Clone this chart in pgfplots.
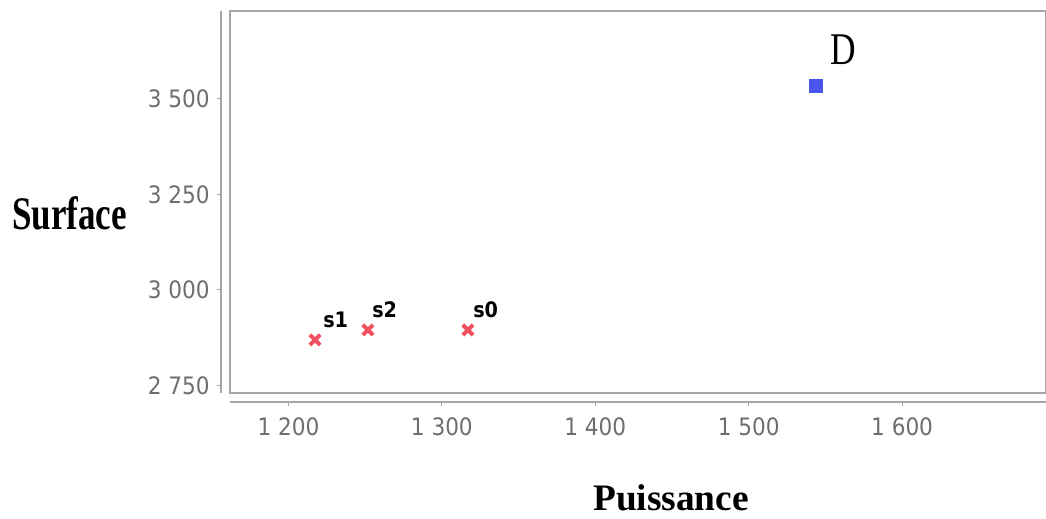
\documentclass[border=0pt]{standalone}
\usepackage{graphicx}
\usepackage{pgfplots}
\pgfplotsset{compat=1.18}
\usepackage{fontspec}
\setmainfont{Liberation Serif}
\newfontfamily\tickfont{DejaVu Sans Condensed}
\definecolor{framegray}{RGB}{165,165,165}
\definecolor{tickgray}{RGB}{110,110,110}
\definecolor{crossred}{RGB}{240,80,95}
\definecolor{sqblue}{RGB}{75,85,235}
\begin{document}
\begin{tikzpicture}
\path[use as bounding box] (0pt,0pt) rectangle (784.5pt,388.5pt);
\pgfplotsset{
  common/.style={scale only axis, width=612pt, height=286.5pt,
    xmin=1161.9, xmax=1693.8, ymin=2730, ymax=3730, anchor=south west},
}
% detached x axis line
\begin{axis}[common, at={(172.5pt,87pt)}, axis x line=bottom, axis y line=none,
  axis line style={-, framegray, line width=1.6pt},
  xtick={1200,1300,1400,1500,1600},
  xticklabels={1 200,1 300,1 400,1 500,1 600},
  tick align=outside, major tick length=3pt,
  xtick style={framegray, line width=0.8pt},
  xticklabel style={font=\tickfont\fontsize{18}{20}\selectfont, text=tickgray, yshift=-5pt}]
\end{axis}
% detached y axis line
\begin{axis}[common, at={(165.75pt,93.75pt)}, axis y line=left, axis x line=none,
  axis line style={-, framegray, line width=1.6pt},
  ytick={2750,3000,3250,3500},
  yticklabels={2 750,3 000,3 250,3 500},
  tick align=outside, major tick length=3pt,
  ytick style={framegray, line width=0.8pt},
  yticklabel style={font=\tickfont\fontsize{18}{20}\selectfont, text=tickgray, xshift=-2pt}]
\end{axis}
% main box with data
\begin{axis}[common, at={(172.5pt,93.75pt)}, clip=false,
  axis line style={framegray, line width=1.5pt},
  xtick=\empty, ytick=\empty]
\addplot[only marks, mark=x, mark size=5.4pt, mark options={line width=3pt}, color=crossred]
  coordinates {(1317,2895) (1217.3,2869) (1251.8,2895)};
\addplot[only marks, mark=square*, mark size=4.9pt, color=sqblue]
  coordinates {(1543.9,3534)};
\end{axis}
\begin{scope}[x=0.75pt,y=0.75pt]
\node[anchor=base west, inner sep=0, font=\tickfont\bfseries\fontsize{16}{18}\selectfont] at (323,190) {s1};
\node[anchor=base west, inner sep=0, font=\tickfont\bfseries\fontsize{16}{18}\selectfont] at (372,200) {s2};
\node[anchor=base west, inner sep=0, font=\tickfont\bfseries\fontsize{16}{18}\selectfont] at (473,200) {s0};
\node[anchor=base west, inner sep=0] at (12,288) {\scalebox{0.75}[1]{\fontsize{35}{40}\selectfont\bfseries Surface}};
\node[anchor=base, inner sep=0] at (671,8) {\fontsize{28}{32}\selectfont\bfseries Puissance};
\node[anchor=base west, inner sep=0] at (830,453) {\scalebox{0.78}[1]{\fontsize{34}{38}\selectfont D}};
\end{scope}
\end{tikzpicture}
\end{document}
